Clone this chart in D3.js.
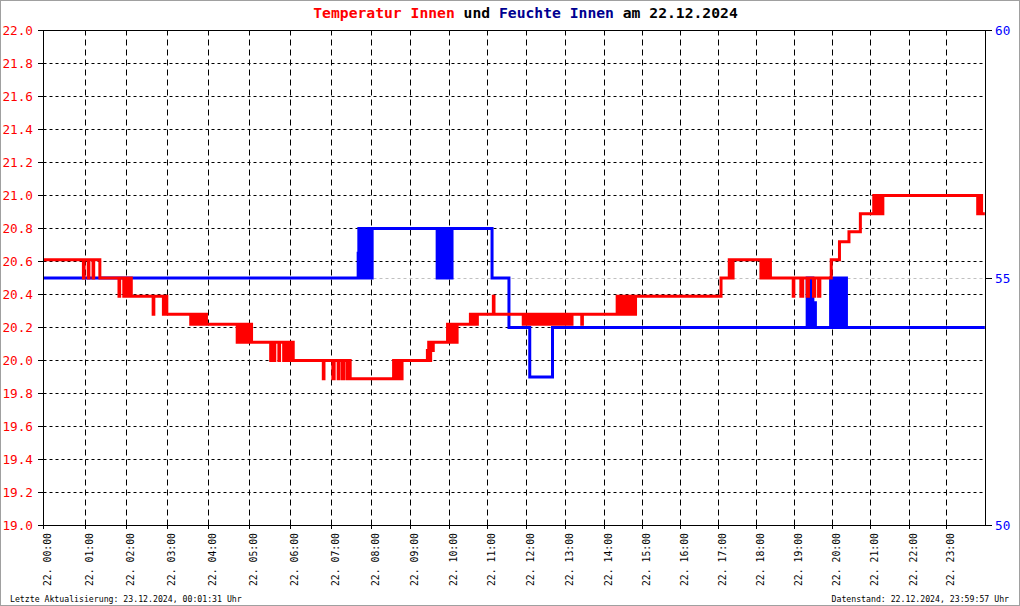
<!DOCTYPE html>
<html><head><meta charset="utf-8">
<script src="https://cdn.jsdelivr.net/npm/d3@7/dist/d3.min.js"></script>
<style>body{margin:0;background:#fff}svg{display:block}</style>
</head><body><svg id="c" width="1020" height="606"></svg>
<script>
// ---------------- DATA ----------------
const titleParts = [["Temperatur Innen","#ff0000"],[" und ","#000000"],["Feuchte Innen","#000090"],[" am 22.12.2024","#000000"]];
const hourLabels = ["22. 00:00","22. 01:00","22. 02:00","22. 03:00","22. 04:00","22. 05:00","22. 06:00","22. 07:00",
  "22. 08:00","22. 09:00","22. 10:00","22. 11:00","22. 12:00","22. 13:00","22. 14:00","22. 15:00",
  "22. 16:00","22. 17:00","22. 18:00","22. 19:00","22. 20:00","22. 21:00","22. 22:00","22. 23:00"];
const tempTicks = [19.0,19.2,19.4,19.6,19.8,20.0,20.2,20.4,20.6,20.8,21.0,21.2,21.4,21.6,21.8,22.0];
const humTicks = [50,55,60];
const footerLeft = "Letzte Aktualisierung: 23.12.2024, 00:01:31 Uhr";
const footerRight = "Datenstand: 22.12.2024, 23:59:57 Uhr";

// Temperatur Innen (°C), change points [time, value]
const tempData = [
["00:00",20.61],["00:57",20.50],["00:58",20.61],["01:04",20.50],["01:05",20.61],["01:11",20.50],["01:12",20.61],["01:21",20.50],
["01:49",20.39],["01:50",20.50],["01:56",20.39],["01:58",20.50],["01:59",20.39],["02:01",20.50],["02:03",20.39],["02:04",20.50],["02:07",20.39],
["02:39",20.28],["02:40",20.39],["02:54",20.28],["02:55",20.39],["02:57",20.28],["02:58",20.39],["02:59",20.28],
["03:34",20.22],["03:35",20.28],["03:37",20.22],["03:39",20.28],["03:41",20.22],["03:43",20.28],["03:45",20.22],["03:47",20.28],["03:49",20.22],["03:51",20.28],["03:53",20.22],["03:56",20.28],["03:57",20.22],
["04:42",20.11],["04:43",20.22],["04:45",20.11],["04:47",20.22],["04:49",20.11],["04:51",20.22],["04:53",20.11],["04:55",20.22],["04:57",20.11],["05:00",20.22],["05:03",20.11],
["05:31",20.00],["05:33",20.11],["05:35",20.00],["05:37",20.11],["05:43",20.00],["05:44",20.11],["05:50",20.00],["05:52",20.11],["05:54",20.00],["05:57",20.11],["06:00",20.00],["06:02",20.11],["06:04",20.00],
["06:48",19.89],["06:49",20.00],
["07:02",19.89],["07:04",20.00],["07:10",19.89],["07:11",20.00],["07:16",19.89],["07:18",20.00],["07:23",19.89],["07:24",20.00],["07:28",19.89],
["08:34",20.00],["08:35",19.89],["08:37",20.00],["08:39",19.89],["08:41",20.00],["08:43",19.89],["08:45",20.00],["08:46",19.89],["08:47",20.00],
["09:26",20.06],["09:28",20.11],["09:30",20.00],["09:31",20.11],["09:33",20.06],["09:35",20.11],
["09:57",20.22],["09:58",20.11],["10:01",20.22],["10:03",20.11],["10:05",20.22],["10:07",20.11],["10:09",20.22],["10:10",20.11],["10:12",20.22],
["10:33",20.28],["10:35",20.22],["10:38",20.28],["10:40",20.22],["10:44",20.28],
["11:09",20.39],["11:10",20.28],
["11:55",20.22],["11:58",20.28],["12:01",20.22],["12:02",20.28],["12:06",20.22],["12:07",20.28],["12:10",20.22],["12:12",20.28],["12:16",20.22],["12:17",20.28],
["12:21",20.22],["12:22",20.28],["12:26",20.22],["12:28",20.28],["12:32",20.22],["12:33",20.28],["12:37",20.22],["12:39",20.28],["12:43",20.22],["12:44",20.28],
["12:48",20.22],["12:50",20.28],["12:54",20.22],["12:55",20.28],["12:59",20.22],["13:01",20.28],["13:04",20.22],["13:05",20.28],["13:08",20.22],["13:10",20.28],
["13:25",20.22],["13:26",20.28],
["14:20",20.39],["14:22",20.28],["14:25",20.39],["14:27",20.28],["14:30",20.39],["14:33",20.28],["14:36",20.39],["14:38",20.28],["14:41",20.39],["14:43",20.28],["14:46",20.39],["14:48",20.28],["14:49",20.39],
["17:04",20.50],["17:17",20.61],["17:18",20.50],["17:20",20.61],["17:21",20.50],["17:23",20.61],
["18:07",20.50],["18:09",20.61],["18:10",20.50],["18:12",20.61],["18:16",20.50],["18:18",20.61],["18:22",20.50],
["18:58",20.39],["18:59",20.50],["19:10",20.39],["19:13",20.50],["19:20",20.39],["19:22",20.50],["19:30",20.39],["19:32",20.50],["19:38",20.39],["19:40",20.50],
["19:58",20.61],["20:11",20.72],["20:26",20.78],["20:44",20.89],
["21:05",21.00],["21:06",20.89],["21:08",21.00],["21:10",20.89],["21:12",21.00],["21:14",20.89],["21:16",21.00],["21:17",20.89],["21:19",21.00],
["23:48",20.89],["23:49",21.00],["23:51",20.89],["23:53",21.00],["23:54",20.89],["23:59",20.89]
];

// Feuchte Innen (%), change points [time, value]
const humData = [
["00:00",55],
["07:40",55.5],["07:41",56],["07:42",55],["07:43",56],["07:45",55],["07:46",56],["07:48",55],["07:49",56],["07:51",55],["07:52",56],["07:54",55],["07:55",56],["07:57",55],["07:58",56],["08:00",55],["08:01",56],
["09:41",55],["09:42",56],["09:43",55],["09:45",56],["09:46",55],["09:48",56],["09:49",55],["09:51",56],["09:52",55],["09:53",56],["09:54",55.5],["09:56",56],["09:57",55],["09:59",56],["10:00",55],["10:02",56],["10:03",55],["10:04",56],
["11:07",55],["11:33",54],["12:05",53],["12:40",54],
["19:20",55],["19:21",54],["19:22",55],["19:23",54],["19:24",55],["19:25",54],["19:26",55],["19:27",54],["19:28",55],["19:29",54],["19:30",54.5],["19:31",54],["19:32",54.5],["19:33",54],
["19:57",55],["19:58",54],["19:59",55],["20:00",54],["20:01",55],["20:03",54],["20:04",55],["20:05",54],["20:06",55],["20:08",54],["20:09",55],["20:10",54],["20:11",55],["20:13",54],["20:14",55],["20:16",54],["20:17",55],["20:19",54],["20:20",55],["20:22",54],
["23:59",54]
];

// ---------------- LAYOUT ----------------
const W = 1020, H = 606;
const L = 43, R = 985, T = 30, B = 525;
// pixel columns of the hour ticks (the axis is sample-based, not linear in time)
const hourPx = [43,85,126,167,208,249,290,331,371,410,449,487,526,565,604,642,680,718,756,794,832,870,909,946,985];
const mono = "'DejaVu Sans Mono', 'Liberation Mono', monospace";

const svg = d3.select("#c");
svg.append("rect").attr("x",0.5).attr("y",0.5).attr("width",W-1).attr("height",H-1)
  .attr("fill","#fff").attr("stroke","#a0a0a0");

const parseT = s => { const [h,m] = s.split(":").map(Number); return h + m/60; };
const x = d3.scaleLinear().domain(d3.range(25)).range(hourPx.map(p => p + 0.5));
const yT = d3.scaleLinear().domain([19,22]).range([B+0.5, T+0.5]);
const yH = d3.scaleLinear().domain([50,60]).range([B+0.5, T+0.5]);

// horizontal dotted grid
svg.append("g").selectAll("line").data(tempTicks.filter(v => v > 19 && v < 22)).join("line")
  .attr("x1", L+0.5).attr("x2", R+0.5)
  .attr("y1", d => Math.round(yT(d)-0.5)+0.5).attr("y2", d => Math.round(yT(d)-0.5)+0.5)
  .attr("stroke","#000").attr("stroke-dasharray","3,3");
// vertical dashed grid
svg.append("g").selectAll("line").data(d3.range(1,24)).join("line")
  .attr("x1", d => x(d)).attr("x2", d => x(d))
  .attr("y1", B+0.5).attr("y2", T+0.5)
  .attr("stroke","#000").attr("stroke-dasharray","6,4");
// grey line at 55 %
svg.append("line").attr("x1", L+0.5).attr("x2", R+0.5)
  .attr("y1", Math.round(yH(55)-0.5)+0.5).attr("y2", Math.round(yH(55)-0.5)+0.5)
  .attr("stroke","#c0c0c0").attr("stroke-dasharray","3,3");

// data lines
const lineH = d3.line().x(d => x(parseT(d[0]))).y(d => yH(d[1])).curve(d3.curveStepAfter);
const lineT = d3.line().x(d => x(parseT(d[0]))).y(d => yT(d[1])).curve(d3.curveStepAfter);
svg.append("path").attr("d", lineH(humData)).attr("fill","none").attr("stroke","#0000ff").attr("stroke-width",3);
svg.append("path").attr("d", lineT(tempData)).attr("fill","none").attr("stroke","#ff0000").attr("stroke-width",3);

// frame
svg.append("rect").attr("x", L+0.5).attr("y", T+0.5).attr("width", R-L).attr("height", B-T)
  .attr("fill","none").attr("stroke","#000");

// left axis ticks + labels
const gl = svg.append("g");
gl.selectAll("line").data(tempTicks).join("line")
  .attr("x1", L-5).attr("x2", L+0.5)
  .attr("y1", d => Math.round(yT(d)-0.5)+0.5).attr("y2", d => Math.round(yT(d)-0.5)+0.5)
  .attr("stroke","#000");
gl.selectAll("text").data(tempTicks).join("text")
  .attr("x", 33).attr("y", d => yT(d)).attr("dy","0.36em")
  .attr("text-anchor","end").attr("fill","#ff0000")
  .style("font-family", mono).style("font-size","12.7px")
  .text(d => d.toFixed(1));

// right axis ticks + labels
const gr = svg.append("g");
gr.selectAll("line").data(humTicks).join("line")
  .attr("x1", R+0.5).attr("x2", R+7)
  .attr("y1", d => Math.round(yH(d)-0.5)+0.5).attr("y2", d => Math.round(yH(d)-0.5)+0.5)
  .attr("stroke","#000");
gr.selectAll("text").data(humTicks).join("text")
  .attr("x", 995).attr("y", d => yH(d)).attr("dy","0.36em")
  .attr("fill","#0000ff")
  .style("font-family", mono).style("font-size","12.7px")
  .text(d => d);

// bottom ticks + rotated labels
const gb = svg.append("g");
gb.selectAll("line").data(d3.range(24)).join("line")
  .attr("x1", d => x(d)).attr("x2", d => x(d))
  .attr("y1", B-4).attr("y2", B+4)
  .attr("stroke","#000");
gb.selectAll("text").data(hourLabels).join("text")
  .attr("transform", (d,i) => `translate(${x(i)+7},533) rotate(-90)`)
  .attr("text-anchor","end").attr("fill","#000")
  .style("font-family", mono).style("font-size","9.8px")
  .text(d => d);

// title
const title = svg.append("text").attr("x", 525.5).attr("y", 18)
  .attr("text-anchor","middle").style("font-family", mono)
  .style("font-size","14.7px").style("font-weight","bold")
  .attr("xml:space","preserve").style("white-space","pre");
title.selectAll("tspan").data(titleParts).join("tspan")
  .attr("fill", d => d[1]).text(d => d[0]);

// footers
svg.append("text").attr("x", 10).attr("y", 601.5).attr("fill","#000")
  .style("font-family", mono).style("font-size","8.2px").text(footerLeft);
svg.append("text").attr("x", 1009).attr("y", 601.5).attr("text-anchor","end").attr("fill","#000")
  .style("font-family", mono).style("font-size","8.2px").text(footerRight);
</script></body></html>
